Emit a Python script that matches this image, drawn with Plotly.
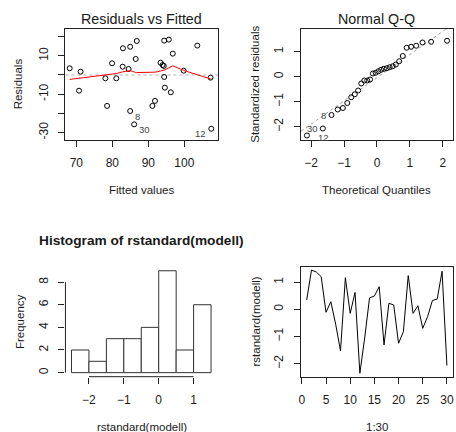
import numpy as np
import plotly.graph_objects as go
from statistics import NormalDist

# ---------------- data ----------------
fitted = [68.15, 71.18, 70.74, 78.07, 78.54, 79.92, 81.10, 82.95, 82.87, 84.52,
          84.96, 86.80, 86.50, 84.96, 86.06, 93.40, 93.97, 94.30, 94.40, 95.70,
          96.80, 94.40, 94.60, 96.25, 91.13, 91.85, 99.83, 103.60, 107.30, 107.50]
residuals = [3.49, 1.72, -8.18, -1.72, -16.1, 6.09, -1.72, 13.9, 4.32, 3.1,
             14.7, 17.7, 8.33, -18.75, -25.7, 6.4, 5.2, 4.7, 17.9, 18.4,
             11.1, -1.04, -6.6, -9.0, -16.1, -13.5, 2.24, 15.3, -1.4, -28.0]
resid_ids = ["", "", "", "", "", "", "", "", "", "",
             "", "", "", "8", "30", "", "", "", "", "",
             "", "", "", "", "", "", "", "", "", "12"]

obs_index = list(range(1, 31))
rstandard = [0.34, 1.44, 1.37, 1.20, -0.11, 0.28, -0.55, -1.53, 1.16, -0.15,
             0.62, -2.35, -1.05, 0.42, 0.49, 0.83, -1.31, 0.22, 0.16, -1.25,
             -0.82, 1.24, -0.15, 0.13, -0.70, -0.27, 0.32, 0.38, 1.40, -2.07]

hist_start, hist_end, hist_size = -2.5, 1.5, 0.5

FONT = "Liberation Sans, Arial, sans-serif"
TXT = "#1a1a1a"


# ---------------- helpers ----------------
def lowess(x, y, f=2/3, nsteps=3):
    x = np.asarray(x, float)
    y = np.asarray(y, float)
    o = np.argsort(x, kind="mergesort")
    x, y = x[o], y[o]
    n = len(x)
    ns = max(min(int(f * n + 1e-7), n), 2)
    rw = np.ones(n)
    ys = np.zeros(n)
    rng = x[-1] - x[0]
    for it in range(nsteps + 1):
        nleft, nright = 0, ns - 1
        for i in range(n):
            while nright < n - 1:
                d1 = x[i] - x[nleft]
                d2 = x[nright + 1] - x[i]
                if d1 <= d2:
                    break
                nleft += 1
                nright += 1
            h = max(x[i] - x[nleft], x[nright] - x[i])
            h9, h1 = 0.999 * h, 0.001 * h
            r = np.abs(x - x[i])
            w = np.zeros(n)
            m = r <= h9
            w[m] = np.where(r[m] <= h1, 1.0, (1 - (r[m] / h) ** 3) ** 3)
            w = w * rw
            if w.sum() <= 0:
                ys[i] = y[i]
                continue
            w = w / w.sum()
            if h > 0:
                a = np.sum(w * x)
                b = x[i] - a
                c = np.sum(w * (x - a) ** 2)
                if np.sqrt(c) > 0.001 * rng:
                    b = b / c
                    w = w * (b * (x - a) + 1.0)
            ys[i] = np.sum(w * y)
        if it >= nsteps:
            break
        res = y - ys
        cmad = 6 * np.median(np.abs(res))
        if cmad < 1e-7 * np.mean(np.abs(y)):
            break
        c9, c1 = 0.999 * cmad, 0.001 * cmad
        ar = np.abs(res)
        rw = np.where(ar <= c1, 1.0, np.where(ar <= c9, (1 - (ar / cmad) ** 2) ** 2, 0.0))
    return x, ys


def dom_x(a, b):
    return [a / 456, b / 456]


def dom_y(top, bottom):
    return [1 - bottom / 432, 1 - top / 432]


open_marker = dict(symbol="circle-open", size=5, color="black",
                   line=dict(color="black", width=1))

fig = go.Figure()

# ---------- Panel 1: Residuals vs Fitted ----------
fig.add_trace(go.Scatter(x=[66.97, 109.39], y=[0, 0], mode="lines",
                         line=dict(color="#b0b0b0", width=1, dash="dot"),
                         xaxis="x", yaxis="y", hoverinfo="skip"))
fig.add_trace(go.Scatter(x=fitted, y=residuals, mode="markers",
                         marker=open_marker, xaxis="x", yaxis="y"))
lx, ly = lowess(fitted, residuals)
fig.add_trace(go.Scatter(x=lx, y=ly, mode="lines",
                         line=dict(color="red", width=1),
                         xaxis="x", yaxis="y", hoverinfo="skip"))

# ---------- Panel 2: Normal Q-Q ----------
n = len(rstandard)
order = np.argsort(rstandard)
sample = np.array(rstandard)[order]
theo = np.array([NormalDist().inv_cdf((i + 0.5) / n) for i in range(n)])
y25, y75 = np.quantile(rstandard, [0.25, 0.75])
x25, x75 = NormalDist().inv_cdf(0.25), NormalDist().inv_cdf(0.75)
slope = (y75 - y25) / (x75 - x25)
inter = y25 - slope * x25
qx = np.array([-2.307, 2.295])
fig.add_trace(go.Scatter(x=qx, y=inter + slope * qx, mode="lines",
                         line=dict(color="#a0a0a0", width=1, dash="dot"),
                         xaxis="x2", yaxis="y2", hoverinfo="skip"))
fig.add_trace(go.Scatter(x=theo, y=sample, mode="markers",
                         marker=open_marker, xaxis="x2", yaxis="y2"))

# ---------- Panel 3: Histogram ----------
fig.add_trace(go.Histogram(x=rstandard,
                           xbins=dict(start=hist_start, end=hist_end, size=hist_size),
                           marker=dict(color="white", line=dict(color="#333333", width=1)),
                           xaxis="x3", yaxis="y3"))

# ---------- Panel 4: index plot ----------
fig.add_trace(go.Scatter(x=obs_index, y=rstandard, mode="lines",
                         line=dict(color="black", width=1),
                         xaxis="x4", yaxis="y4"))

tickfont = dict(family=FONT, size=12, color=TXT)
common = dict(showgrid=False, zeroline=False, ticks="outside", ticklen=6,
              tickwidth=1, tickcolor="#222222", tickfont=tickfont,
              ticklabelstandoff=6)
box = dict(showline=True, mirror=True, linecolor="#222222", linewidth=1)

P1X, P2X = (63, 217), (300.7, 453.5)
TOPY, BOTY = (28.5, 140), (266.7, 376.7)

fig.update_layout(
    width=456, height=432, autosize=False,
    margin=dict(l=0, r=0, t=0, b=0),
    paper_bgcolor="white", plot_bgcolor="white",
    showlegend=False, bargap=0,
    xaxis=dict(domain=dom_x(*P1X), range=[66.97, 109.39], anchor="y",
               tickvals=[70, 80, 90, 100], **common, **box),
    yaxis=dict(domain=dom_y(*TOPY), range=[-33.85, 24.2], anchor="x",
               tickvals=[-30, -20, -10, 0, 10, 20],
               ticktext=["-30", "", "-10", "", "10", ""], tickangle=-90,
               **common, **box),
    xaxis2=dict(domain=dom_x(*P2X), range=[-2.307, 2.295], anchor="y2",
                tickvals=[-2, -1, 0, 1, 2], **common, **box),
    yaxis2=dict(domain=dom_y(*TOPY), range=[-2.53, 1.93], anchor="x2",
                tickvals=[-2, -1, 0, 1], tickangle=-90, **common, **box),
    xaxis3=dict(domain=dom_x(*P1X), range=[-2.673, 1.702], anchor="y3",
                tickvals=[-2, -1, 0, 1], showline=False, **common),
    yaxis3=dict(domain=dom_y(*BOTY), range=[-0.36, 9.36], anchor="x3",
                tickvals=[0, 2, 4, 6, 8], tickangle=-90, showline=False, **common),
    xaxis4=dict(domain=dom_x(*P2X), range=[-0.16, 31.16], anchor="y4",
                tickvals=[0, 5, 10, 15, 20, 25, 30], **common, **box),
    yaxis4=dict(domain=dom_y(*BOTY), range=[-2.478, 1.566], anchor="x4",
                tickvals=[-2, -1, 0, 1], tickangle=-90, **common, **box),
)

# axis lines of the histogram (R draws them only between first and last tick)
fig.add_shape(type="line", xref="x3 domain", yref="y3", x0=0, x1=0, y0=0, y1=8,
              line=dict(color="#222222", width=1))
fig.add_shape(type="line", xref="x3", yref="y3 domain", x0=-2, x1=1, y0=0, y1=0,
              line=dict(color="#222222", width=1))

ann = []


def paper_text(txt, px, py, size=11.5, angle=0, bold=False):
    ann.append(dict(text=f"<b>{txt}</b>" if bold else txt, x=px / 456, y=1 - py / 432,
                    xref="paper", yref="paper", showarrow=False, textangle=angle,
                    xanchor="center", yanchor="middle",
                    font=dict(family=FONT, size=size, color=TXT)))


paper_text("Residuals vs Fitted", 140, 18.5, size=14.3)
paper_text("Normal Q-Q", 377, 18.5, size=14.3)
paper_text("Histogram of rstandard(modell)", 140, 240.5, size=13.7, bold=True)
paper_text("Fitted values", 140, 189.5)
paper_text("Theoretical Quantiles", 377, 190)
paper_text("rstandard(modell)", 140, 426.5)
paper_text("1:30", 377, 426.5)
paper_text("Residuals", 15.5, 84, angle=-90)
paper_text("Standardized residuals", 254, 84, angle=-90)
paper_text("Frequency", 16.5, 321.7, angle=-90)
paper_text("rstandard(modell)", 255, 321.7, angle=-90)

# point id labels, panel 1
for fx, rv, lab in zip(fitted, residuals, resid_ids):
    if not lab:
        continue
    right_side = fx > (min(fitted) + max(fitted)) / 2
    ann.append(dict(text=lab, x=fx, y=rv, xref="x", yref="y", showarrow=False,
                    xanchor="right" if right_side else "left",
                    xshift=-3 if right_side else 3, yshift=-5,
                    font=dict(family=FONT, size=9.5, color="#444444")))

# point id labels, panel 2 (three lowest standardized residuals)
qq_ids = {12: (9, -2, "left"), 30: (-3, 0, "right"), 8: (-3, 0, "right")}
for obs, (xs, ys_, anc) in qq_ids.items():
    v = rstandard[obs - 1]
    k = int(np.where(sample == v)[0][0])
    ann.append(dict(text=str(obs), x=theo[k], y=v, xref="x2", yref="y2",
                    showarrow=False, xanchor=anc, xshift=xs, yshift=ys_,
                    font=dict(family=FONT, size=9.5, color="#444444")))

fig.update_layout(annotations=ann)
fig.write_html("out.html",
               config={"displayModeBar": False, "staticPlot": True},
               post_script="document.body.style.margin='0px';"
                           "document.body.style.padding='0px';"
                           "document.body.style.overflow='hidden';")
